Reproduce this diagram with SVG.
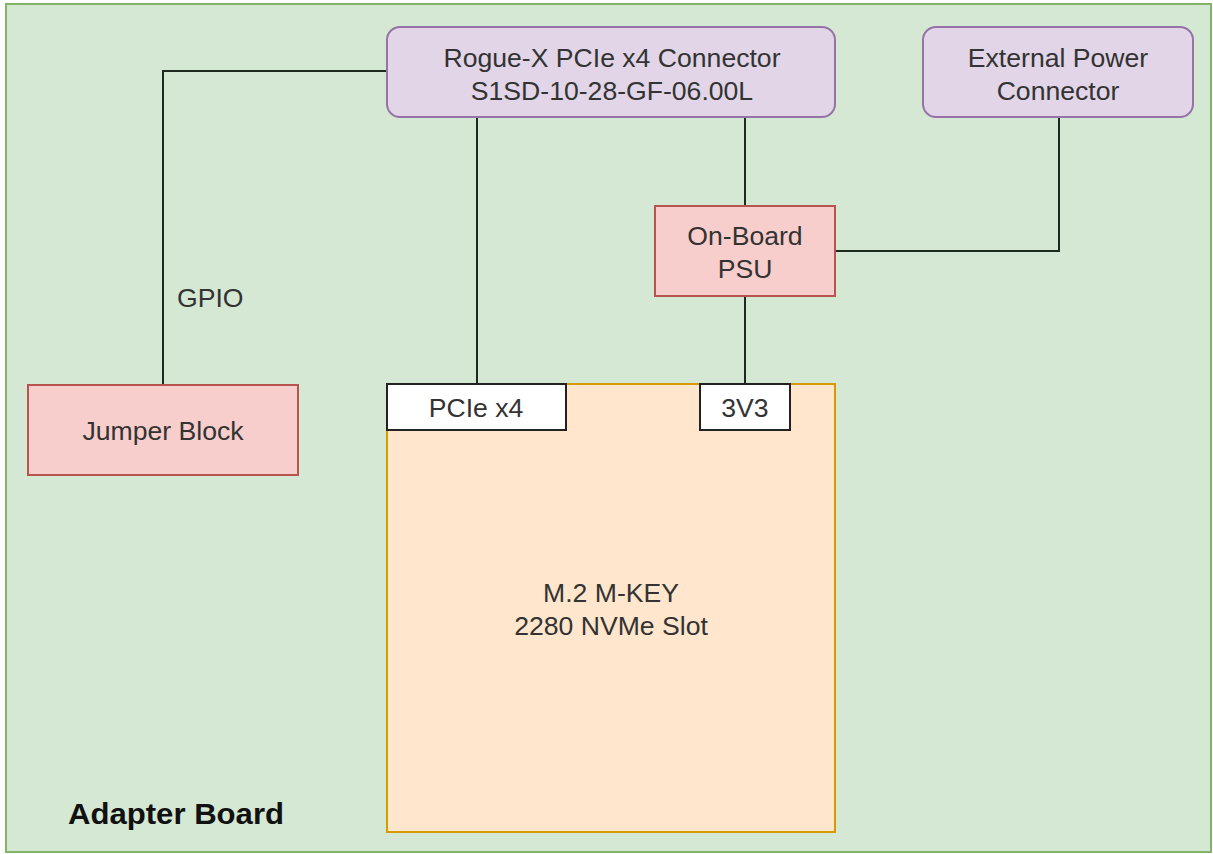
<svg xmlns="http://www.w3.org/2000/svg" width="1213" height="854" viewBox="0 0 1213 854">
<style>
text{font-family:"Liberation Sans",Arial,sans-serif;font-size:26.6px;fill:#333;text-anchor:middle}
.purple{fill:#e1d5e7;stroke:#9673a6;stroke-width:2}
.red{fill:#f8cecc;stroke:#b85450;stroke-width:2}
.orange{fill:#ffe6cc;stroke:#d79b00;stroke-width:2}
.white{fill:#ffffff;stroke:#222;stroke-width:2}
.conn{fill:none;stroke:#1e2a1e;stroke-width:2}
</style>
<rect x="0" y="0" width="1213" height="854" fill="#ffffff"/>
<g id="board">
<rect x="6" y="4" width="1205" height="848" fill="#d5e8d4" stroke="#82b366" stroke-width="2"/>
<text x="68" y="824" style="font-weight:bold;font-size:30px;fill:#111;text-anchor:start" textLength="216" lengthAdjust="spacingAndGlyphs">Adapter Board</text>
</g>
<g id="connectors">
<polyline class="conn" points="387,71 163,71 163,385"/>
<line class="conn" x1="477" y1="117" x2="477" y2="384"/>
<line class="conn" x1="745" y1="117" x2="745" y2="206"/>
<line class="conn" x1="745" y1="296" x2="745" y2="384"/>
<polyline class="conn" points="835,251 1059,251 1059,117"/>
<text x="177" y="307" style="text-anchor:start">GPIO</text>
</g>
<g id="rogue">
<rect class="purple" x="387" y="27" width="448" height="90" rx="13"/>
<text x="612" y="67">Rogue-X PCIe x4 Connector</text>
<text x="612" y="100">S1SD-10-28-GF-06.00L</text>
</g>
<g id="extpower">
<rect class="purple" x="923" y="27" width="270" height="90" rx="13"/>
<text x="1058" y="67">External Power</text>
<text x="1058" y="100">Connector</text>
</g>
<g id="psu">
<rect class="red" x="655" y="206" width="180" height="90"/>
<text x="745" y="245">On-Board</text>
<text x="745" y="278">PSU</text>
</g>
<g id="jumper">
<rect class="red" x="28" y="385" width="270" height="90"/>
<text x="163" y="440">Jumper Block</text>
</g>
<g id="m2slot">
<rect class="orange" x="387" y="384" width="448" height="448"/>
<text x="611" y="602">M.2 M-KEY</text>
<text x="611" y="635">2280 NVMe Slot</text>
</g>
<g id="pcie">
<rect class="white" x="387" y="384" width="179" height="46"/>
<text x="476" y="417">PCIe x4</text>
</g>
<g id="v3v3">
<rect class="white" x="700" y="384" width="90" height="46"/>
<text x="745" y="417">3V3</text>
</g>
</svg>
